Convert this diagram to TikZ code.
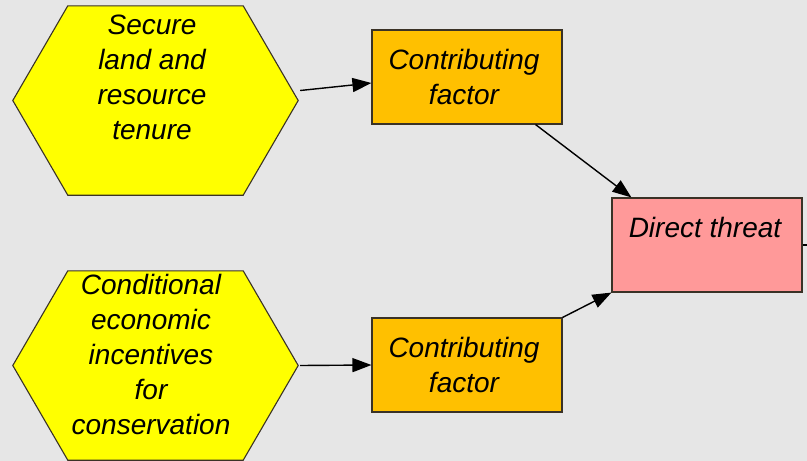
\documentclass[tikz,border=0pt]{standalone}
\usepackage{fontspec}
\setmainfont{Liberation Sans}
\usetikzlibrary{arrows.meta,calc}
\definecolor{bggray}{HTML}{E6E6E6}
\definecolor{hexyellow}{HTML}{FFFF00}
\definecolor{cforange}{HTML}{FFC000}
\definecolor{dtpink}{HTML}{FF9999}
\definecolor{edge}{HTML}{3A3226}
\tikzset{
  hexbase/.style={draw=none,minimum width=285pt,minimum height=189pt,inner sep=0pt},
  hexpath/.style={draw=edge,line width=1.1pt,fill=hexyellow},
  cfbox/.style={draw=edge,line width=1.1pt,fill=cforange,minimum width=190pt,minimum height=94pt,inner sep=0pt},
  dtbox/.style={draw=edge,line width=1.1pt,fill=dtpink,minimum width=190pt,minimum height=94pt,inner sep=0pt},
  lbl/.style={font=\fontsize{28}{35}\selectfont\itshape,align=center,inner sep=0pt,anchor=north,text=black},
  conn/.style={line width=1.4pt,draw=black,-{Triangle[length=19pt,width=14pt]}},
}
\begin{document}
\begin{tikzpicture}[x=1pt,y=-1pt]
\useasboundingbox[fill=bggray] (0,0) rectangle (807,461);
% hexagons
\node[hexbase] (h1) at (155.5,100.5) {};
\node[hexbase] (h2) at (155.5,365.5) {};
\foreach \h in {h1,h2}{
  \draw[hexpath] (\h.west) -- ($(\h.north west)+(55,0)$) -- ($(\h.north east)+(-55,0)$)
    -- (\h.east) -- ($(\h.south east)+(-55,0)$) -- ($(\h.south west)+(55,0)$) -- cycle;
}
\node[lbl] (t1) at (152,14.5) {Secure\\land and\\resource\\tenure};
\node[lbl] (t2) at (151,274.5) {Conditional\\economic\\incentives\\for\\conservation};
% boxes
\node[cfbox] (cf1) at (467,77) {};
\node[cfbox] (cf2) at (467,365) {};
\node[dtbox] (dt) at (707,245) {};
\node[lbl] (cft1) at (464,49.5) {Contributing\\factor};
\node[lbl] (cft2) at (464,337.5) {Contributing\\factor};
\node[lbl] (dtt) at (705,217.5) {Direct threat};
% connectors
\coordinate (s1) at ($(h1.east)+(2,-10)$);
\coordinate (e1) at ($(cf1.west)+(0,6)$);
\draw[conn] (s1) -- (e1);
\coordinate (s2) at ($(cf1.south east)+(-27,0)$);
\coordinate (e2) at ($(dt.north west)+(20,0)$);
\draw[conn] (s2) -- (e2);
\coordinate (s3) at ($(h2.east)+(2,0)$);
\draw[conn] (s3) -- (cf2.west);
\draw[conn] (cf2.north east) -- (dt.south west);
\coordinate (out) at (807,245);
\draw[line width=1.3pt,draw=black] (dt.east) -- (out);
\end{tikzpicture}
\end{document}
